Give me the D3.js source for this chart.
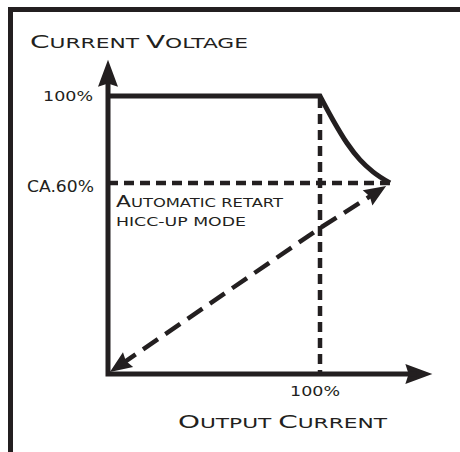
<!DOCTYPE html>
<html><head><meta charset="utf-8">
<script src="https://cdn.jsdelivr.net/npm/d3@7"></script>
<style>html,body{margin:0;padding:0;background:#fff;}svg{display:block;}</style>
</head><body>
<svg id="chart" width="460" height="452"></svg>
<script>
// ---- data (percent of rated values) ----
const xTickValues = [100];
const xTickLabels = ["100%"];
const yTickValues = [100, 68.7];
const yTickLabels = ["100%", "ca.60%"];
const axisMaxX = 153;
const axisMaxY = 113;
// constant-voltage then constant-power fold-back curve
const limitX = [0, 100, 106.1, 112.7, 118.9, 125.0, 133.0];
const limitY = [100, 100, 91.4, 83.1, 77.0, 72.7, 68.7];
// hiccup restart path (double-headed dashed arrow)
const hiccupX = [0.9, 100, 131.2];
const hiccupY = [0.7, 52.5, 67.6];
const yLabel = "Current Voltage";
const xLabel = "Output Current";
const noteLines = ["Automatic retart", "hicc-up mode"];

const ink = "#231f20";
const svg = d3.select("#chart");
const x = d3.scaleLinear().domain([0, 100]).range([108, 320]);
const y = d3.scaleLinear().domain([0, 100]).range([374, 96]);

// frame
svg.append("rect").attr("x", 10.5).attr("y", 9.5).attr("width", 470).attr("height", 470)
  .attr("fill", "none").attr("stroke", ink).attr("stroke-width", 5);

function arrowHead(tip, from, L, W) {
  const dx = tip[0] - from[0], dy = tip[1] - from[1];
  const d = Math.hypot(dx, dy), ux = dx / d, uy = dy / d;
  const bx = tip[0] - ux * L, by = tip[1] - uy * L;
  svg.append("path")
    .attr("d", `M${tip[0]},${tip[1]}L${bx - uy * W},${by + ux * W}L${bx + ux * L * 0.12},${by + uy * L * 0.12}L${bx + uy * W},${by - ux * W}Z`)
    .attr("fill", ink);
  return [tip[0] - ux * (L * 0.6), tip[1] - uy * (L * 0.6)];
}

// dashed guides
svg.append("line").attr("x1", x(0)).attr("x2", x(limitX[limitX.length - 1]))
  .attr("y1", y(yTickValues[1])).attr("y2", y(yTickValues[1]))
  .attr("stroke", ink).attr("stroke-width", 4.5).attr("stroke-dasharray", "10,6");
svg.append("line").attr("x1", x(100)).attr("x2", x(100))
  .attr("y1", y(100) + 2).attr("y2", y(0))
  .attr("stroke", ink).attr("stroke-width", 4.5).attr("stroke-dasharray", "10,6");

// axes
const yTip = [x(0), y(axisMaxY)], xTip = [x(axisMaxX), y(0)];
const yBase = arrowHead(yTip, [x(0), y(0)], 27, 10);
const xBase = arrowHead(xTip, [x(0), y(0)], 27, 10);
svg.append("path").attr("d", `M${yBase[0]},${yBase[1]}L${x(0)},${y(0)}L${xBase[0]},${xBase[1]}`)
  .attr("fill", "none").attr("stroke", ink).attr("stroke-width", 5).attr("stroke-linejoin", "miter");

// limit curve
const flat = d3.line().x(d => x(d[0])).y(d => y(d[1]))(limitX.slice(0, 2).map((v, i) => [v, limitY[i]]));
const curve = d3.line().x(d => x(d[0])).y(d => y(d[1])).curve(d3.curveMonotoneX)(limitX.slice(1).map((v, i) => [v, limitY[i + 1]]));
svg.append("path").attr("d", flat + curve.replace(/^M/, "L"))
  .attr("fill", "none").attr("stroke", ink).attr("stroke-width", 5).attr("stroke-linejoin", "miter");

// hiccup arrow
const hp = hiccupX.map((v, i) => [x(v), y(hiccupY[i])]);
const s = arrowHead(hp[0], hp[1], 22, 9);
const e = arrowHead(hp[hp.length - 1], hp[hp.length - 2], 22, 9);
svg.append("path").attr("d", d3.line()([s, ...hp.slice(1, -1), e]))
  .attr("fill", "none").attr("stroke", ink).attr("stroke-width", 4.5).attr("stroke-dasharray", "18,9");

// small-caps text helper
function scText(str, px, py, big, small, len, anchor) {
  const t = svg.append("text").attr("x", px).attr("y", py).attr("fill", ink)
    .attr("font-family", "'DejaVu Sans', sans-serif").attr("text-anchor", anchor || "start");
  const runs = [];
  for (const ch of str) {
    const isBig = /[A-Z]/.test(ch);
    const size = isBig ? big : small;
    if (runs.length && runs[runs.length - 1].size === size) runs[runs.length - 1].s += ch.toUpperCase();
    else runs.push({ size, s: ch.toUpperCase() });
  }
  runs.forEach(r => t.append("tspan").attr("font-size", r.size).text(r.s));
  if (len) t.attr("textLength", len).attr("lengthAdjust", "spacingAndGlyphs");
  return t;
}

scText(yLabel, 30, 48, 18, 14, 218);
scText(xLabel, 178, 428, 18, 14, 209);
scText(noteLines[0], 116, 207, 16, 12, 167);
scText(noteLines[1], 116, 226, 16, 12, 130);
// y tick labels
scText(yTickLabels[0], x(0) - 15, y(yTickValues[0]) + 5, 14, 14, 50, "end");
scText(yTickLabels[1], x(0) - 14, y(yTickValues[1]) + 9, 15, 15, 67, "end");
// x tick label
scText(xTickLabels[0], x(xTickValues[0]) - 5, y(0) + 22, 14, 14, 50, "middle");
</script>
</body></html>
